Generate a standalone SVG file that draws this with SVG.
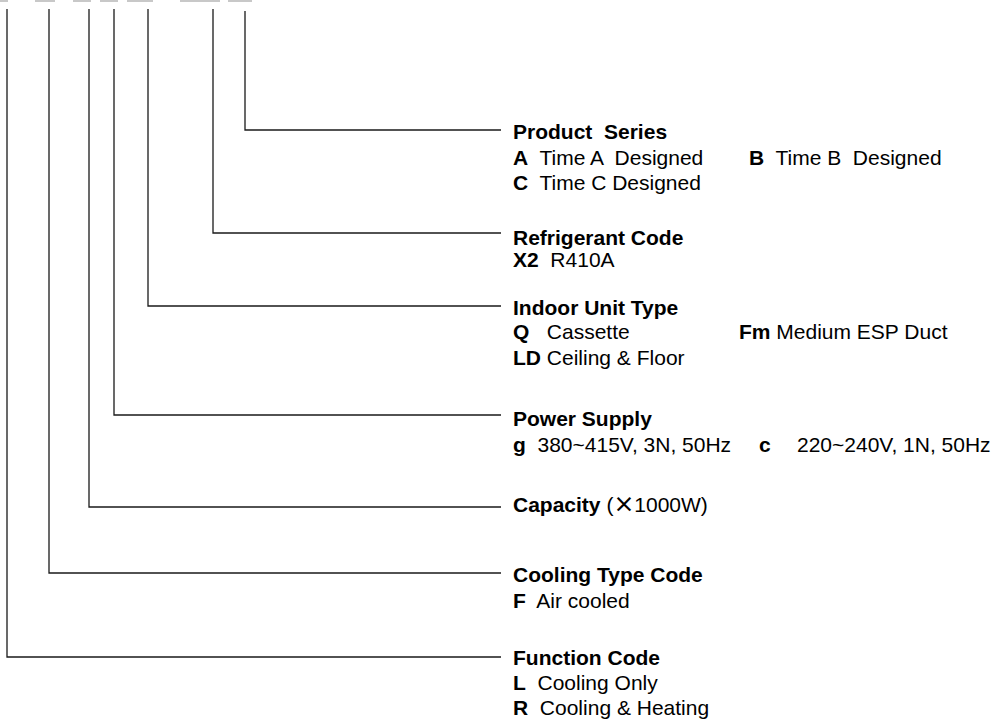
<svg xmlns="http://www.w3.org/2000/svg" width="1002" height="728" viewBox="0 0 1002 728">
<style>
.c{fill:none;stroke:#1a1a1a;stroke-width:1.3}
.bar{fill:#c8c8c8}
text{font-family:"Liberation Sans",Arial,sans-serif;font-size:21px;fill:#000}
.b{font-weight:bold}
</style>
<rect width="1002" height="728" fill="#fff"/>
<g id="code-bars">
<rect class="bar" x="0" y="0" width="8" height="2"/>
<rect class="bar" x="35" y="0" width="20" height="2"/>
<rect class="bar" x="73" y="0" width="18" height="2"/>
<rect class="bar" x="100" y="0" width="18" height="2"/>
<rect class="bar" x="127" y="0" width="26" height="2"/>
<rect class="bar" x="180" y="0" width="40" height="2"/>
<rect class="bar" x="228" y="0" width="24" height="2"/>
</g>
<g id="connectors">
<polyline class="c" points="245,11 245,130 501,130"/>
<polyline class="c" points="213,9 213,233 501,233"/>
<polyline class="c" points="148,9 148,306 501,306"/>
<polyline class="c" points="114,9 114,415 501,415"/>
<polyline class="c" points="89,9 89,507 501,507"/>
<polyline class="c" points="49,9 49,573 501,573"/>
<polyline class="c" points="7,9 7,657 501,657"/>
</g>
<g id="product-series">
<text x="513" y="139" class="b" xml:space="preserve">Product  Series</text>
<text x="513" y="165" xml:space="preserve"><tspan class="b">A</tspan>  Time A  Designed</text>
<text x="749" y="165" xml:space="preserve"><tspan class="b">B</tspan>  Time B  Designed</text>
<text x="513" y="190" xml:space="preserve"><tspan class="b">C</tspan>  Time C Designed</text>
</g>
<g id="refrigerant-code">
<text x="513" y="245" class="b">Refrigerant Code</text>
<text x="513" y="267" xml:space="preserve"><tspan class="b">X2</tspan>  R410A</text>
</g>
<g id="indoor-unit-type">
<text x="513" y="315" class="b">Indoor Unit Type</text>
<text x="513" y="339" xml:space="preserve"><tspan class="b">Q</tspan>   Cassette</text>
<text x="739" y="339" xml:space="preserve"><tspan class="b">Fm</tspan> Medium ESP Duct</text>
<text x="513" y="365" xml:space="preserve"><tspan class="b">LD</tspan> Ceiling &amp; Floor</text>
</g>
<g id="power-supply">
<text x="513" y="426" class="b">Power Supply</text>
<text x="513" y="452" xml:space="preserve"><tspan class="b">g</tspan>  380~415V, 3N, 50Hz</text>
<text x="759" y="452" xml:space="preserve"><tspan class="b">c</tspan><tspan x="797">220~240V, 1N, 50Hz</tspan></text>
</g>
<g id="capacity">
<text x="513" y="512" xml:space="preserve"><tspan class="b">Capacity</tspan> (<tspan font-size="25" font-weight="normal" font-family="DejaVu Sans, sans-serif">×</tspan>1000W)</text>
</g>
<g id="cooling-type-code">
<text x="513" y="582" class="b">Cooling Type Code</text>
<text x="513" y="608" xml:space="preserve"><tspan class="b">F</tspan>  Air cooled</text>
</g>
<g id="function-code">
<text x="513" y="665" class="b">Function Code</text>
<text x="513" y="690" xml:space="preserve"><tspan class="b">L</tspan>  Cooling Only</text>
<text x="513" y="715" xml:space="preserve"><tspan class="b">R</tspan>  Cooling &amp; Heating</text>
</g>
</svg>
